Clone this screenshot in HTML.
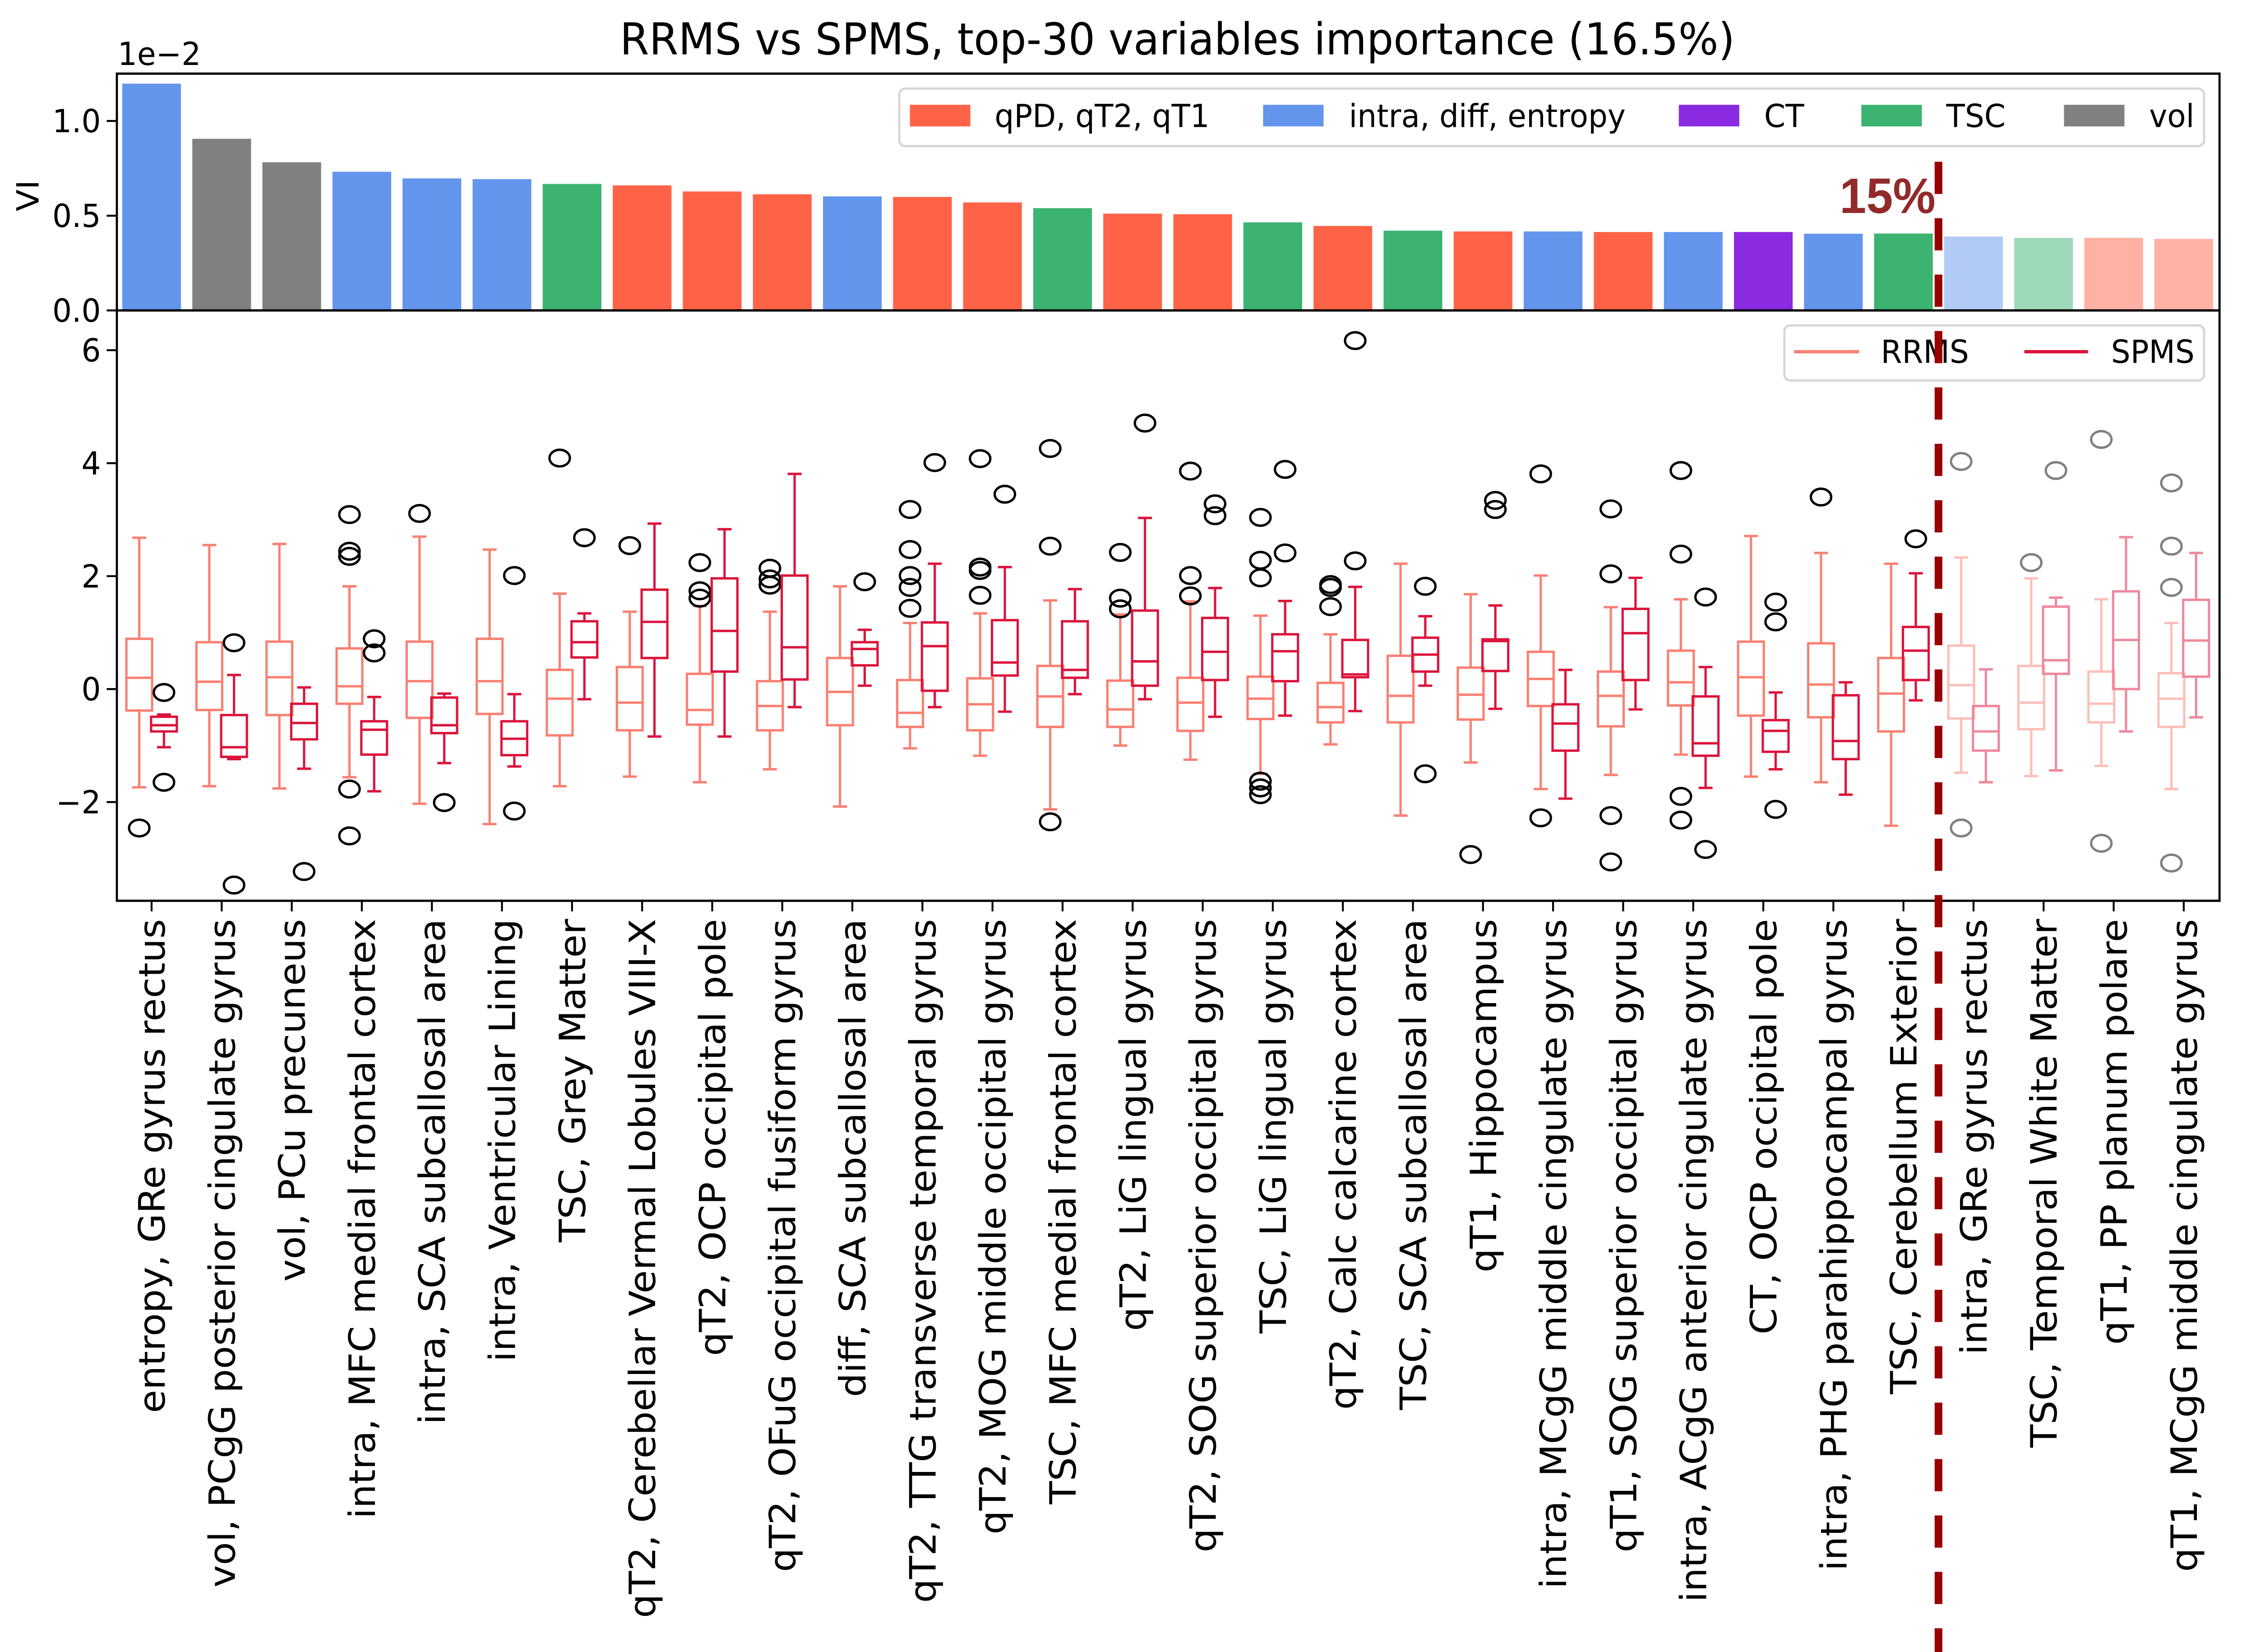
<!DOCTYPE html>
<html><head><meta charset="utf-8">
<style>
html,body{margin:0;padding:0;background:#fff;width:100vw;height:100vh;overflow:hidden;}
svg{display:block;position:absolute;left:0;top:0;width:100vw;height:100vh;font-family:"DejaVu Sans","Liberation Sans",sans-serif;}
</style></head><body>
<svg id="chart" xmlns="http://www.w3.org/2000/svg" viewBox="0 0 1552.1 1092.5" preserveAspectRatio="none">
<rect x="0" y="0" width="1552.1" height="1092.5" fill="#fff"/>
<text x="810" y="36" font-size="29" text-anchor="middle">RRMS vs SPMS, top-30 variables importance (16.5%)</text>
<g id="topPanel"></g>
<g id="bottomPanel"></g>
<g id="overlayLayer"></g>
</svg>
<script>
const labels = ["entropy, GRe gyrus rectus","vol, PCgG posterior cingulate gyrus","vol, PCu precuneus","intra, MFC medial frontal cortex","intra, SCA subcallosal area","intra, Ventricular Lining","TSC, Grey Matter","qT2, Cerebellar Vermal Lobules VIII-X","qT2, OCP occipital pole","qT2, OFuG occipital fusiform gyrus","diff, SCA subcallosal area","qT2, TTG transverse temporal gyrus","qT2, MOG middle occipital gyrus","TSC, MFC medial frontal cortex","qT2, LiG lingual gyrus","qT2, SOG superior occipital gyrus","TSC, LiG lingual gyrus","qT2, Calc calcarine cortex","TSC, SCA subcallosal area","qT1, Hippocampus","intra, MCgG middle cingulate gyrus","qT1, SOG superior occipital gyrus","intra, ACgG anterior cingulate gyrus","CT, OCP occipital pole","intra, PHG parahippocampal gyrus","TSC, Cerebellum Exterior","intra, GRe gyrus rectus","TSC, Temporal White Matter","qT1, PP planum polare","qT1, MCgG middle cingulate gyrus"];
const importance = [1.197,0.906,0.782,0.732,0.697,0.693,0.668,0.66,0.628,0.613,0.602,0.599,0.570,0.540,0.511,0.508,0.465,0.446,0.421,0.417,0.417,0.414,0.414,0.414,0.405,0.406,0.390,0.383,0.383,0.378];
const groups = ["I","V","V","I","I","I","T","Q","Q","Q","I","Q","Q","T","Q","Q","T","Q","T","Q","I","Q","I","C","I","T","I","T","Q","Q"];
const cutoffIndex = 25.5;
const fadeFrom = 26;
const yTicksTop = [0.0,0.5,1.0];
const yTicksBottom = [-2,0,2,4,6];
const legendCats = [["Q","qPD, qT2, qT1"],["I","intra, diff, entropy"],["C","CT"],["T","TSC"],["V","vol"]];
// [whisker-low, q1, median, q3, whisker-high]
const rrStats = [
[-1.74,-0.38,0.20,0.89,2.68],[-1.72,-0.37,0.13,0.83,2.55],[-1.76,-0.46,0.21,0.84,2.57],[-1.56,-0.26,0.05,0.72,1.82],[-2.03,-0.51,0.14,0.84,2.70],
[-2.39,-0.44,0.14,0.89,2.47],[-1.72,-0.82,-0.17,0.34,1.69],[-1.55,-0.73,-0.24,0.39,1.37],[-1.65,-0.63,-0.37,0.27,1.47],[-1.42,-0.73,-0.30,0.14,1.37],
[-2.08,-0.64,-0.05,0.55,1.82],[-1.05,-0.67,-0.42,0.16,1.17],[-1.18,-0.73,-0.27,0.19,1.34],[-2.13,-0.67,-0.13,0.41,1.57],[-1.00,-0.67,-0.36,0.15,1.32],
[-1.25,-0.74,-0.24,0.20,1.55],[-1.50,-0.53,-0.17,0.22,1.30],[-0.98,-0.59,-0.32,0.11,0.97],[-2.24,-0.59,-0.12,0.59,2.22],[-1.30,-0.54,-0.10,0.38,1.68],
[-1.77,-0.30,0.18,0.66,2.01],[-1.52,-0.66,-0.12,0.31,1.45],[-1.16,-0.29,0.12,0.68,1.59],[-1.55,-0.47,0.21,0.84,2.71],[-1.65,-0.50,0.08,0.81,2.41],
[-2.42,-0.75,-0.08,0.55,2.22],[-1.48,-0.52,0.07,0.77,2.33],[-1.54,-0.71,-0.24,0.41,1.96],[-1.36,-0.59,-0.26,0.31,1.59],[-1.77,-0.67,-0.17,0.28,1.17]];
const spStats = [
[-1.03,-0.75,-0.64,-0.49,-0.45],[-1.24,-1.20,-1.03,-0.46,0.25],[-1.41,-0.89,-0.60,-0.26,0.03],[-1.81,-1.16,-0.72,-0.57,-0.14],[-1.31,-0.78,-0.64,-0.15,-0.08],
[-1.37,-1.17,-0.88,-0.57,-0.09],[-0.18,0.56,0.83,1.20,1.34],[-0.84,0.55,1.19,1.76,2.93],[-0.84,0.31,1.03,1.96,2.83],[-0.32,0.17,0.74,2.01,3.81],
[0.06,0.42,0.71,0.83,1.05],[-0.32,-0.03,0.76,1.18,2.22],[-0.40,0.24,0.47,1.22,2.16],[-0.09,0.20,0.34,1.20,1.77],[-0.18,0.06,0.49,1.39,3.03],
[-0.49,0.16,0.66,1.26,1.79],[-0.47,0.14,0.67,0.97,1.56],[-0.39,0.21,0.26,0.87,1.81],[0.06,0.31,0.61,0.91,1.29],[-0.35,0.32,0.85,0.88,1.48],
[-1.94,-1.09,-0.61,-0.27,0.34],[-0.36,0.16,0.99,1.42,1.97],[-1.75,-1.18,-0.96,-0.13,0.39],[-1.42,-1.11,-0.74,-0.55,-0.06],[-1.87,-1.24,-0.92,-0.11,0.12],
[-0.20,0.16,0.68,1.10,2.05],[-1.65,-1.09,-0.75,-0.30,0.35],[-1.44,0.27,0.51,1.46,1.62],[-0.75,0.00,0.87,1.73,2.69],[-0.50,0.22,0.86,1.58,2.41]];
const rrOutliers = [[-2.46],[],[],[3.09,2.44,2.35,-1.77,-2.60],[3.11],[],[4.09],[2.54],[2.24,1.74,1.61],[2.14,1.95,1.84],
[],[3.18,2.47,2.01,1.80,1.43],[4.08,2.16,2.10,1.66],[4.26,2.53,-2.35],[2.42,1.61,1.42],[3.86,2.01,1.65],[3.04,2.28,1.97,-1.63,-1.75,-1.87],[1.85,1.80,1.46],[],[-2.93],
[3.81,-2.28],[3.19,2.04,-2.24,-3.06],[3.87,2.39,-1.90,-2.32],[],[3.40],[],[4.03,-2.46],[2.24],[4.42,-2.73],[3.65,2.53,1.80,-3.08]];
const spOutliers = [[-0.06,-1.65],[0.82,-3.47],[-3.23],[0.89,0.64],[-2.01],[2.01,-2.16],[2.68],[],[],[],
[1.90],[4.01],[3.45],[],[4.71],[3.28,3.07],[3.89,2.41],[6.17,2.27],[1.82,-1.50],[3.34,3.18],
[],[],[1.63,-2.84],[1.54,1.19,-2.13],[],[2.66],[],[3.87],[],[]];

const NS = "http://www.w3.org/2000/svg";
const AX_L = 80.4, AX_R = 1527.0;
const TOP_T = 48.7, TOP_B = 205.3, BOT_B = 595.7;
const barColors = {Q:"#ff6347", I:"#6495ed", C:"#8a2be2", T:"#3cb371", V:"#808080"};
const barColorsFaded = {Q:"#ffb1a3", I:"#b1caf6", C:"#c495f0", T:"#9dd9b8", V:"#bfbfbf"};
function xPos(i){ return 104.3 + 48.21*i; }
function yTop(v){ return TOP_B - 125.3*v; }
function yBot(v){ return 455.7 - 37.35*v; }
function mk(tag, attrs, parent, text){
  const e = document.createElementNS(NS, tag);
  for (const k in attrs) e.setAttribute(k, attrs[k]);
  if (text !== undefined) e.textContent = text;
  parent.appendChild(e);
  return e;
}
const gTop = document.getElementById('topPanel');
const gBot = document.getElementById('bottomPanel');
const gOv = document.getElementById('overlayLayer');

for (let i = 0; i < importance.length; i++) {
  const c = i >= fadeFrom ? barColorsFaded[groups[i]] : barColors[groups[i]];
  const r = mk('rect', {x: xPos(i)-20.2, y: yTop(importance[i]), width: 40.4, height: TOP_B - yTop(importance[i]), fill: c}, gTop);
  
  
}
const tf = mk('rect', {x: AX_L, y: TOP_T, width: AX_R-AX_L, height: TOP_B-TOP_T, fill: "none", stroke: "#000", "stroke-width": 1.5}, gTop);


for (const t of yTicksTop) {
  mk('line', {x1: AX_L-7, x2: AX_L, y1: yTop(t), y2: yTop(t), stroke: "#000", "stroke-width": 1.3}, gTop);
  const tl = mk('text', {x: AX_L-11, y: yTop(t)+7.5, "font-size": 21, "text-anchor": "end"}, gTop, t.toFixed(1));
  
  
}
const off = mk('text', {x: 81, y: 43, "font-size": 21}, gTop, "1e\u22122");


const yl = mk('text', {x: 0, y: 0, "font-size": 21, "text-anchor": "middle", transform: "translate(26.5,129.4) rotate(-90)"}, gTop, "VI");



const lg = mk('g', {}, gTop);


mk('rect', {x: 618.7, y: 58.6, width: 897.7, height: 38.1, rx: 4, fill: "#fff", stroke: "#d6d6d6", "stroke-width": 1.5}, lg);
const legX = [[626,684.3],[869,928],[1155,1213.7],[1280.6,1339],[1420,1478.6]];
legendCats.forEach((c, k) => {
  const e = mk('g', {}, lg);
  
  
  mk('rect', {x: legX[k][0], y: 69.3, width: 41.6, height: 14.3, fill: barColors[c[0]]}, e);
  mk('text', {x: legX[k][1], y: 84, "font-size": 21}, e, c[1]);
});

const bf = mk('rect', {x: AX_L, y: TOP_B, width: AX_R-AX_L, height: BOT_B-TOP_B, fill: "none", stroke: "#000", "stroke-width": 1.5}, gBot);


for (const t of yTicksBottom) {
  mk('line', {x1: AX_L-7, x2: AX_L, y1: yBot(t), y2: yBot(t), stroke: "#000", "stroke-width": 1.3}, gBot);
  const tl = mk('text', {x: AX_L-11, y: yBot(t)+7.5, "font-size": 21, "text-anchor": "end"}, gBot, t < 0 ? "\u2212" + Math.abs(t) : String(t));
  
  
}
function drawBox(cx, s, outs, color, outColor, name){
  const g = mk('g', {fill: "none", stroke: color, "stroke-width": 1.6}, gBot);
  
  
  const hw = 8.85, cw = 4.8;
  mk('line', {x1: cx, x2: cx, y1: yBot(s[0]), y2: yBot(s[1])}, g);
  mk('line', {x1: cx, x2: cx, y1: yBot(s[3]), y2: yBot(s[4])}, g);
  mk('line', {x1: cx-cw, x2: cx+cw, y1: yBot(s[0]), y2: yBot(s[0])}, g);
  mk('line', {x1: cx-cw, x2: cx+cw, y1: yBot(s[4]), y2: yBot(s[4])}, g);
  mk('rect', {x: cx-hw, y: yBot(s[3]), width: 2*hw, height: yBot(s[1])-yBot(s[3])}, g);
  mk('line', {x1: cx-hw, x2: cx+hw, y1: yBot(s[2]), y2: yBot(s[2])}, g);
  for (const o of outs) {
    const c = mk('ellipse', {cx: cx, cy: yBot(o), rx: 7, ry: 5.5, stroke: outColor}, g);
    
    
  }
}
for (let i = 0; i < labels.length; i++) {
  const x = xPos(i);
  const faded = i >= fadeFrom;
  drawBox(x-8.5, rrStats[i], rrOutliers[i], faded ? "#fcbfb8" : "#fa8072", faded ? "#808080" : "#000", 'rrms-box-' + (i+1));
  drawBox(x+8.5, spStats[i], spOutliers[i], faded ? "#ed899d" : "#dc143c", faded ? "#808080" : "#000", 'spms-box-' + (i+1));
  mk('line', {x1: x, x2: x, y1: BOT_B, y2: BOT_B+7, stroke: "#000", "stroke-width": 1.3}, gBot);
  const tl = mk('text', {x: 0, y: 0, "font-size": 25, "text-anchor": "end", transform: "translate(" + (x+9) + "," + (BOT_B+12) + ") rotate(-90)"}, gBot, labels[i]);
  
  
}
const lg2 = mk('g', {}, gBot);


mk('rect', {x: 1227.6, y: 215.2, width: 288.8, height: 36.4, rx: 4, fill: "#fff", stroke: "#d6d6d6", "stroke-width": 1.5}, lg2);
mk('line', {x1: 1234.3, x2: 1279, y1: 232.6, y2: 232.6, stroke: "#fa8072", "stroke-width": 2.2}, lg2);
mk('text', {x: 1294, y: 240, "font-size": 21}, lg2, "RRMS");
mk('line', {x1: 1392.7, x2: 1436.5, y1: 232.6, y2: 232.6, stroke: "#dc143c", "stroke-width": 2.2}, lg2);
mk('text', {x: 1452.4, y: 240, "font-size": 21}, lg2, "SPMS");

const cutX = xPos(cutoffIndex);
const cut = mk('line', {x1: cutX, x2: cutX, y1: 107, y2: 1092.5, stroke: "#990000", "stroke-width": 5.3, "stroke-dasharray": "21.3 16"}, gOv);


const ct = mk('text', {x: cutX-2, y: 140.8, "font-size": 33, "font-weight": "bold", fill: "#922a2a", "text-anchor": "end", "font-family": "Liberation Sans, sans-serif"}, gOv, "15%");


</script>
</body></html>
